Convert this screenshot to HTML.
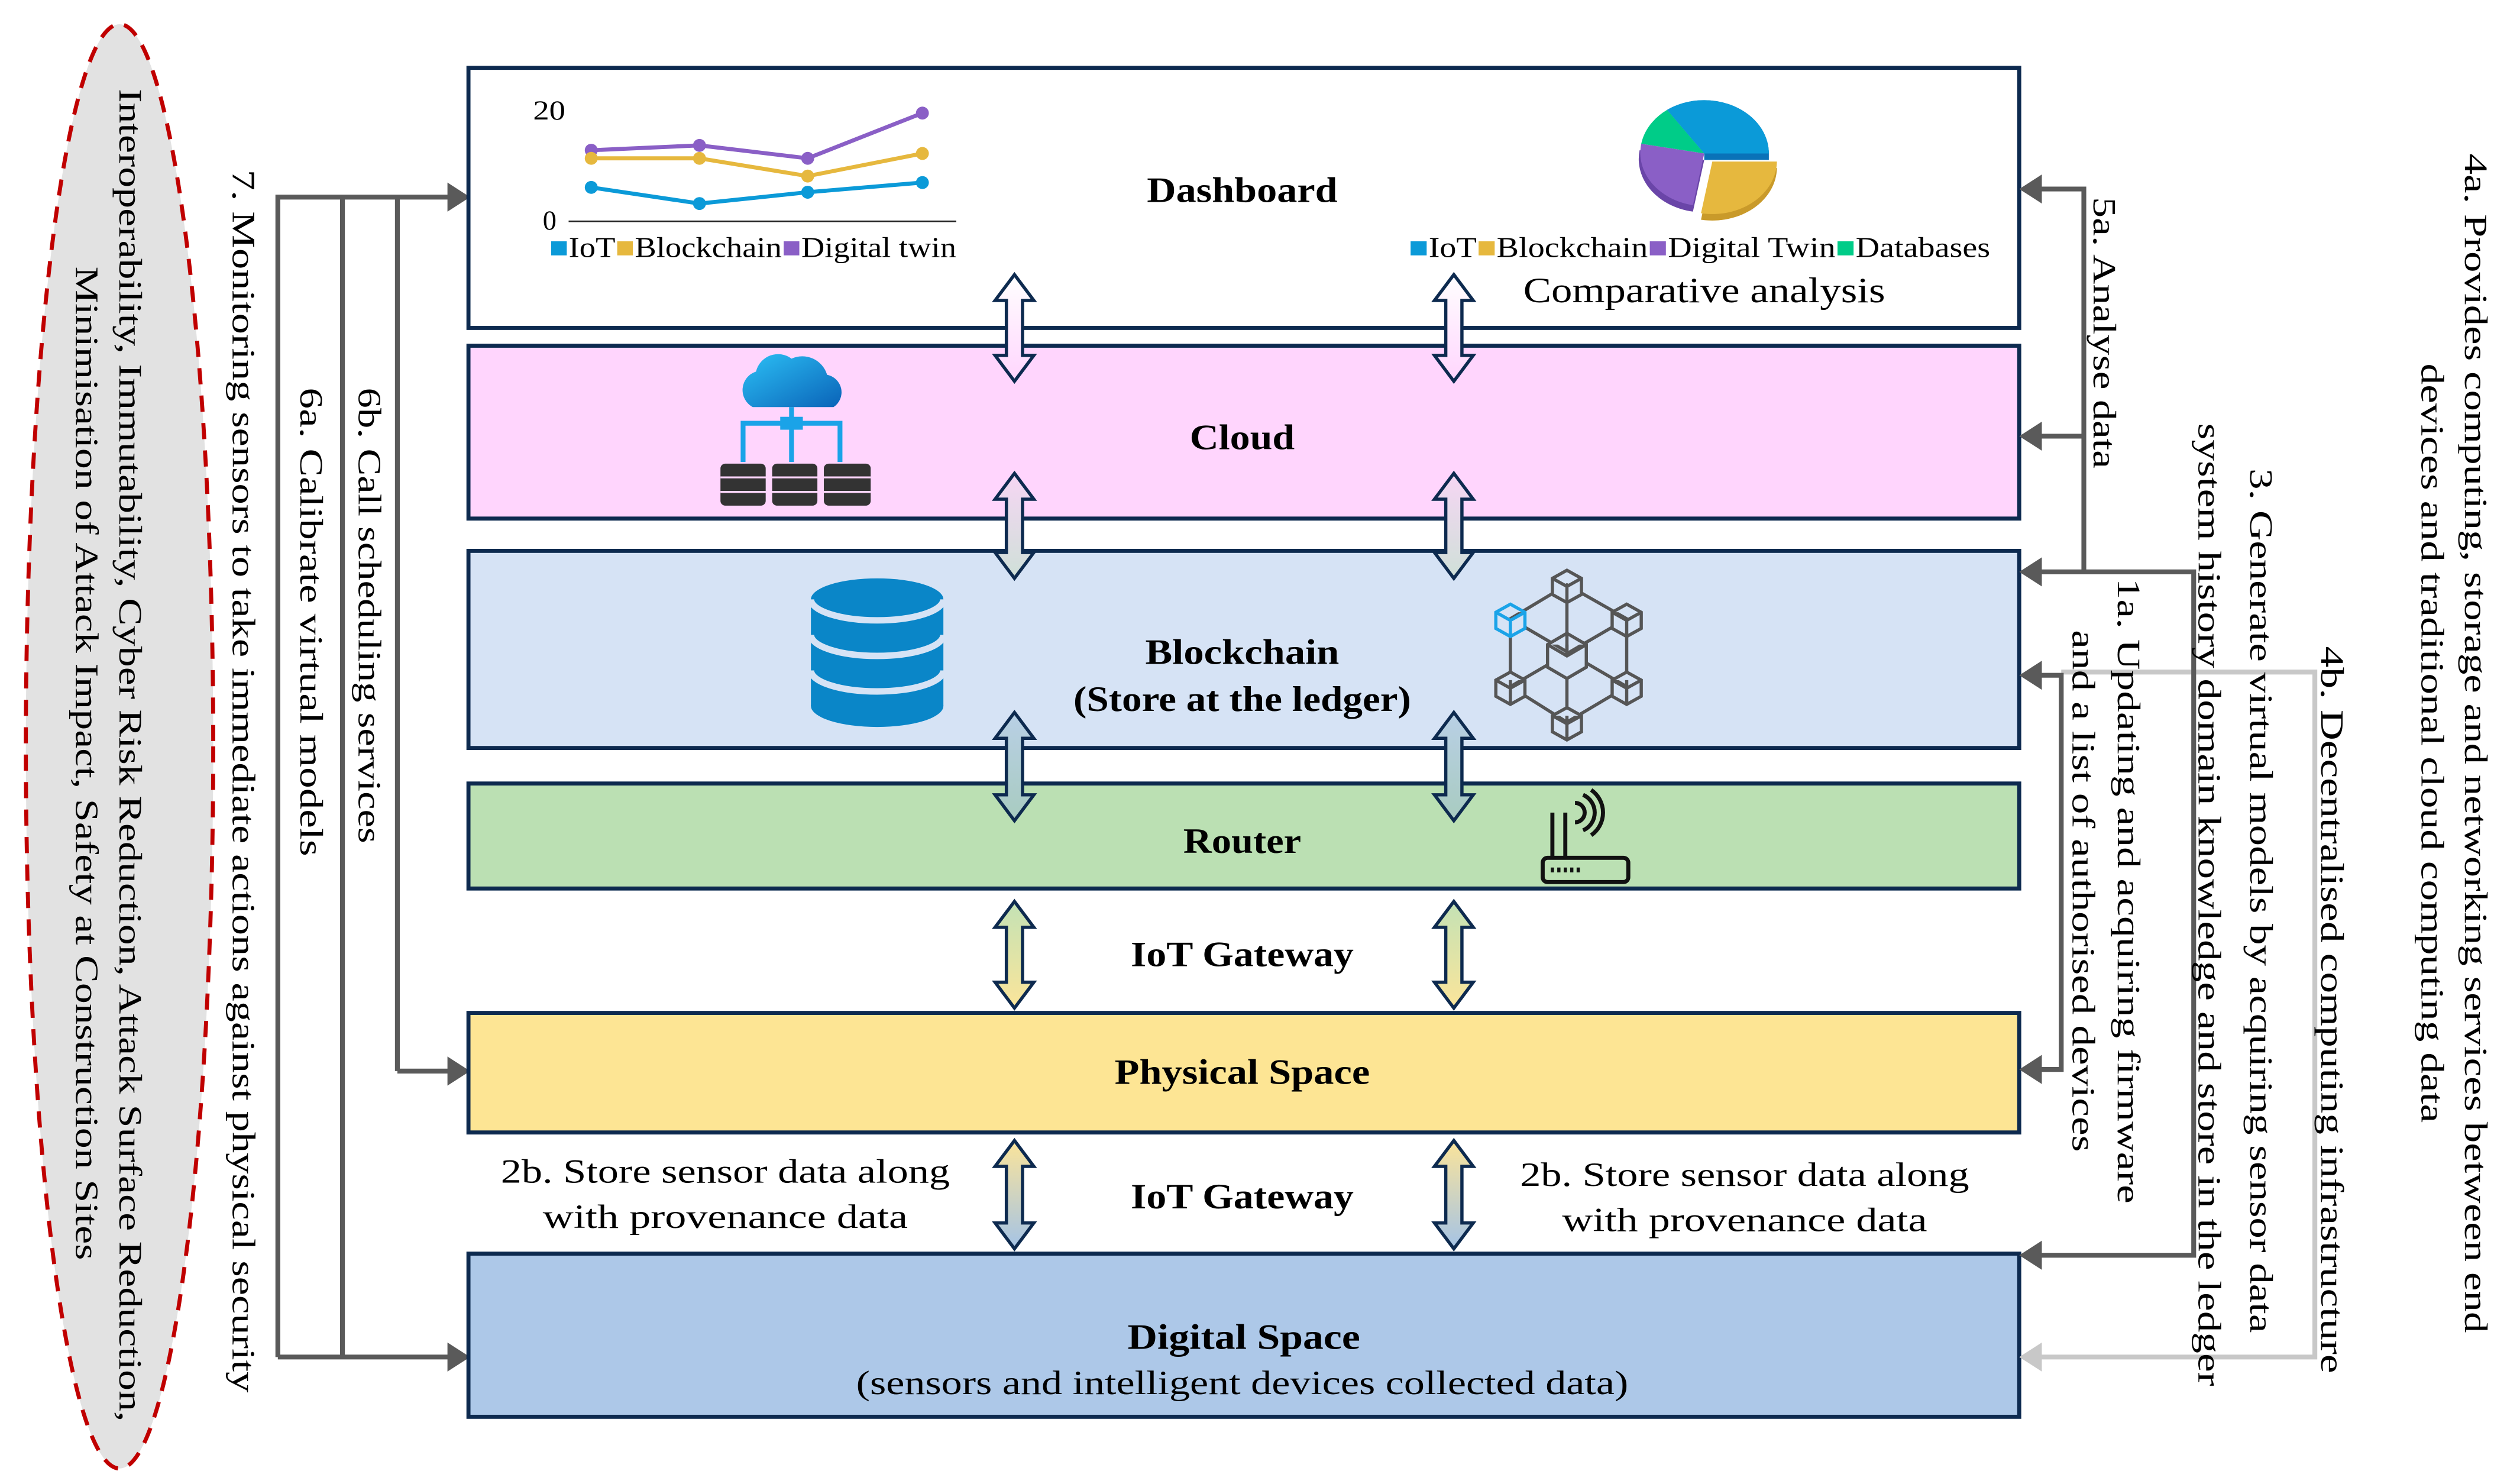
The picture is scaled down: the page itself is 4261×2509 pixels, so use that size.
<!DOCTYPE html>
<html><head><meta charset="utf-8"><style>
html,body{margin:0;padding:0;background:#fff;}
svg{display:block;}
text{font-family:"Liberation Serif",serif;fill:#000;}
.b{font-weight:bold;font-size:22px;}
.r{font-size:20px;}
</style></head><body>
<svg width="4261" height="2509" viewBox="0 0 1560 918.6" preserveAspectRatio="none" xmlns="http://www.w3.org/2000/svg">
<defs>
<linearGradient id="cg" x1="0" y1="0" x2="1" y2="1"><stop offset="0" stop-color="#2cc0f5"/><stop offset="1" stop-color="#0a63b8"/></linearGradient>
<linearGradient id="a1" x1="0" y1="0" x2="0" y2="1"><stop offset="0" stop-color="#ffffff"/><stop offset="1" stop-color="#ffd5fd"/></linearGradient>
<linearGradient id="a2" x1="0" y1="0" x2="0" y2="1"><stop offset="0" stop-color="#f6d6f4"/><stop offset="1" stop-color="#cfe0d8"/></linearGradient>
<linearGradient id="a3" x1="0" y1="0" x2="0" y2="1"><stop offset="0" stop-color="#b9d0e6"/><stop offset="1" stop-color="#a8cbc0"/></linearGradient>
<linearGradient id="a4" x1="0" y1="0" x2="0" y2="1"><stop offset="0" stop-color="#c3e2b5"/><stop offset="1" stop-color="#fbe59a"/></linearGradient>
<linearGradient id="a5" x1="0" y1="0" x2="0" y2="1"><stop offset="0" stop-color="#fbe49a"/><stop offset="1" stop-color="#a4c3e6"/></linearGradient>
</defs>

<!-- ellipse -->
<ellipse cx="74" cy="462" rx="58" ry="447" fill="#e2e2e2" stroke="#c00000" stroke-width="2.5" stroke-dasharray="10,7"/>
<text class="r" transform="translate(74,55) rotate(90)" textLength="825" lengthAdjust="spacingAndGlyphs">Interoperability, Immutability, Cyber Risk Reduction, Attack Surface Reduction,</text>
<text class="r" transform="translate(47,165) rotate(90)" textLength="615" lengthAdjust="spacingAndGlyphs">Minimisation of Attack Impact, Safety at Construction Sites</text>

<!-- left connectors -->
<g stroke="#5a5a5a" stroke-width="3" fill="none">
<polyline points="172,840 172,122 280,122"/>
<line x1="212" y1="122" x2="212" y2="840"/>
<line x1="246" y1="122" x2="246" y2="663"/>
<line x1="172" y1="840" x2="280" y2="840"/>
<line x1="246" y1="663" x2="280" y2="663"/>
</g>
<g fill="#5a5a5a">
<polygon points="291,122 277,113 277,131"/>
<polygon points="291,840 277,831 277,849"/>
<polygon points="291,663 277,654 277,672"/>
</g>
<text class="r" transform="translate(144,105) rotate(90)" textLength="757" lengthAdjust="spacingAndGlyphs">7. Monitoring sensors to take immediate actions against physical security</text>
<text class="r" transform="translate(186,240) rotate(90)" textLength="290" lengthAdjust="spacingAndGlyphs">6a. Calibrate virtual models</text>
<text class="r" transform="translate(222,240) rotate(90)" textLength="282" lengthAdjust="spacingAndGlyphs">6b. Call scheduling services</text>

<!-- boxes -->
<g stroke="#0d2a4f" stroke-width="2.5">
<rect x="290" y="42" width="960" height="161" fill="#ffffff"/>
<rect x="290" y="214" width="960" height="107" fill="#ffd5fd"/>
<rect x="290" y="341" width="960" height="122" fill="#d6e3f5"/>
<rect x="290" y="485" width="960" height="65" fill="#bbe0b3"/>
<rect x="290" y="627" width="960" height="74" fill="#fde594"/>
<rect x="290" y="776" width="960" height="101" fill="#adc8e8"/>
</g>

<!-- right connectors -->
<g fill="none" stroke-width="3">
<polyline stroke="#c8c8c8" points="1276,416 1433,416 1433,840 1262,840"/>
<polyline stroke="#5a5a5a" points="1262,117 1290,117 1290,354"/>
<line stroke="#5a5a5a" x1="1262" y1="270" x2="1290" y2="270"/>
<polyline stroke="#5a5a5a" points="1262,354 1358,354 1358,777 1262,777"/>
<polyline stroke="#5a5a5a" points="1262,418 1276,418 1276,662 1262,662"/>
</g>
<g fill="#5a5a5a">
<polygon points="1250,117 1264,108 1264,126"/>
<polygon points="1250,270 1264,261 1264,279"/>
<polygon points="1250,354 1264,345 1264,363"/>
<polygon points="1250,418 1264,409 1264,427"/>
<polygon points="1250,662 1264,653 1264,671"/>
<polygon points="1250,777 1264,768 1264,786"/>
</g>
<polygon fill="#c8c8c8" points="1250,840 1264,831 1264,849"/>

<text class="r" transform="translate(1296,122) rotate(90)" textLength="168" lengthAdjust="spacingAndGlyphs">5a. Analyse data</text>
<text class="r" transform="translate(1526,95) rotate(90)" textLength="730" lengthAdjust="spacingAndGlyphs">4a. Provides computing, storage and networking services between end</text>
<text class="r" transform="translate(1499,225) rotate(90)" textLength="470" lengthAdjust="spacingAndGlyphs">devices and traditional cloud computing data</text>
<text class="r" transform="translate(1393,290) rotate(90)" textLength="535" lengthAdjust="spacingAndGlyphs">3. Generate virtual models by acquiring sensor data</text>
<text class="r" transform="translate(1361,262) rotate(90)" textLength="596" lengthAdjust="spacingAndGlyphs">system history domain knowledge and store in the ledger</text>
<text class="r" transform="translate(1311,358) rotate(90)" textLength="387" lengthAdjust="spacingAndGlyphs">1a. Updating and acquiring firmware</text>
<text class="r" transform="translate(1283,390) rotate(90)" textLength="323" lengthAdjust="spacingAndGlyphs">and a list of authorised devices</text>
<text class="r" transform="translate(1437,400) rotate(90)" textLength="450" lengthAdjust="spacingAndGlyphs">4b. Decentralised computing infrastructure</text>

<!-- double arrows -->
<g stroke="#0d2a4f" stroke-width="2">
<path fill="url(#a1)" d="M628,170 L640,186 L633,186 L633,220 L640,220 L628,236 L616,220 L623,220 L623,186 L616,186 Z"/>
<path fill="url(#a1)" d="M900,170 L912,186 L905,186 L905,220 L912,220 L900,236 L888,220 L895,220 L895,186 L888,186 Z"/>
<path fill="url(#a2)" d="M628,293 L640,309 L633,309 L633,342 L640,342 L628,358 L616,342 L623,342 L623,309 L616,309 Z"/>
<path fill="url(#a2)" d="M900,293 L912,309 L905,309 L905,342 L912,342 L900,358 L888,342 L895,342 L895,309 L888,309 Z"/>
<path fill="url(#a3)" d="M628,441 L640,457 L633,457 L633,492 L640,492 L628,508 L616,492 L623,492 L623,457 L616,457 Z"/>
<path fill="url(#a3)" d="M900,441 L912,457 L905,457 L905,492 L912,492 L900,508 L888,492 L895,492 L895,457 L888,457 Z"/>
<path fill="url(#a4)" d="M628,558 L640,574 L633,574 L633,608 L640,608 L628,624 L616,608 L623,608 L623,574 L616,574 Z"/>
<path fill="url(#a4)" d="M900,558 L912,574 L905,574 L905,608 L912,608 L900,624 L888,608 L895,608 L895,574 L888,574 Z"/>
<path fill="url(#a5)" d="M628,706 L640,722 L633,722 L633,757 L640,757 L628,773 L616,757 L623,757 L623,722 L616,722 Z"/>
<path fill="url(#a5)" d="M900,706 L912,722 L905,722 L905,757 L912,757 L900,773 L888,757 L895,757 L895,722 L888,722 Z"/>
</g>

<!-- box labels -->
<g text-anchor="middle">
<text class="b" x="769" y="125" textLength="118" lengthAdjust="spacingAndGlyphs">Dashboard</text>
<text class="b" x="769" y="278" textLength="65" lengthAdjust="spacingAndGlyphs">Cloud</text>
<text class="b" x="769" y="411" textLength="120" lengthAdjust="spacingAndGlyphs">Blockchain</text>
<text class="b" x="769" y="440" textLength="209" lengthAdjust="spacingAndGlyphs">(Store at the ledger)</text>
<text class="b" x="769" y="528" textLength="73" lengthAdjust="spacingAndGlyphs">Router</text>
<text class="b" x="769" y="598" textLength="138" lengthAdjust="spacingAndGlyphs">IoT Gateway</text>
<text class="b" x="769" y="671" textLength="158" lengthAdjust="spacingAndGlyphs">Physical Space</text>
<text class="b" x="769" y="748" textLength="138" lengthAdjust="spacingAndGlyphs">IoT Gateway</text>
<text class="b" x="770" y="835" textLength="144" lengthAdjust="spacingAndGlyphs">Digital Space</text>
<text x="769" y="863" font-size="21" textLength="478" lengthAdjust="spacingAndGlyphs">(sensors and intelligent devices collected data)</text>
<text x="449" y="732" font-size="21" textLength="278" lengthAdjust="spacingAndGlyphs">2b. Store sensor data along</text>
<text x="449" y="760" font-size="21" textLength="226" lengthAdjust="spacingAndGlyphs">with provenance data</text>
<text x="1080" y="734" font-size="21" textLength="278" lengthAdjust="spacingAndGlyphs">2b. Store sensor data along</text>
<text x="1080" y="762" font-size="21" textLength="226" lengthAdjust="spacingAndGlyphs">with provenance data</text>
<text x="1055" y="187" font-size="22" textLength="224" lengthAdjust="spacingAndGlyphs">Comparative analysis</text>
</g>

<!-- line chart -->
<text x="330" y="74" font-size="17" textLength="20" lengthAdjust="spacingAndGlyphs">20</text>
<text x="336" y="142" font-size="17">0</text>
<line x1="352" y1="137" x2="592" y2="137" stroke="#222" stroke-width="1"/>
<g stroke-width="2.5" fill="none">
<polyline stroke="#8a5fc6" points="366,93 433,90 500,98 571,70"/>
<polyline stroke="#e6b83e" points="366,98 433,98 500,109 571,95"/>
<polyline stroke="#0b9ad8" points="366,116 433,126 500,119 571,113"/>
</g>
<g fill="#8a5fc6"><circle cx="366" cy="93" r="4"/><circle cx="433" cy="90" r="4"/><circle cx="500" cy="98" r="4"/><circle cx="571" cy="70" r="4"/></g>
<g fill="#e6b83e"><circle cx="366" cy="98" r="4"/><circle cx="433" cy="98" r="4"/><circle cx="500" cy="109" r="4"/><circle cx="571" cy="95" r="4"/></g>
<g fill="#0b9ad8"><circle cx="366" cy="116" r="4"/><circle cx="433" cy="126" r="4"/><circle cx="500" cy="119" r="4"/><circle cx="571" cy="113" r="4"/></g>
<text x="340" y="159" font-size="18" textLength="252" lengthAdjust="spacingAndGlyphs"><tspan fill="#0b9ad8">■</tspan>IoT<tspan fill="#e6b83e">■</tspan>Blockchain<tspan fill="#8a5fc6">■</tspan>Digital twin</text>

<!-- pie -->
<path d="M1060,104 L1100,104 A40,33 0 0 1 1053,136 Z" fill="#c99a2a"/>
<path d="M1055,99 L1048,131 A40,33 0 0 1 1015,93 Z" fill="#6a45a8"/>
<path d="M1055,95 L1032,68 A40,33 0 0 1 1095,95 L1095,99 L1055,99 Z" fill="#0a72b8"/>
<path d="M1055,95 L1032,68 A40,33 0 0 1 1095,95 Z" fill="#0b9ad8"/>
<path d="M1055,95 L1016,89 A40,33 0 0 1 1032,68 Z" fill="#00cc88"/>
<path d="M1055,95 L1048,127 A40,33 0 0 1 1016,89 Z" fill="#8a5fc6"/>
<path d="M1060,100 L1100,100 A40,33 0 0 1 1053,132 Z" fill="#e6b83e"/>
<text x="872" y="159" font-size="18" textLength="360" lengthAdjust="spacingAndGlyphs"><tspan fill="#0b9ad8">■</tspan>IoT<tspan fill="#e6b83e">■</tspan>Blockchain<tspan fill="#8a5fc6">■</tspan>Digital Twin<tspan fill="#00cc88">■</tspan>Databases</text>

<!-- cloud icon -->
<path d="M466,252 A12,12 0 0 1 468,230 A14,14 0 0 1 490,222 A16,16 0 0 1 512,232 A11,11 0 0 1 516,252 Z" fill="url(#cg)"/>
<g stroke="#1aa3e8" stroke-width="3" fill="none">
<line x1="490" y1="252" x2="490" y2="286"/>
<polyline points="460,286 460,262 520,262 520,286"/>
</g>
<rect x="483" y="258" width="14" height="8" fill="#1aa3e8"/>
<g fill="#333">
<rect x="446" y="287" width="28" height="26" rx="3"/>
<rect x="478" y="287" width="28" height="26" rx="3"/>
<rect x="510" y="287" width="29" height="26" rx="3"/>
</g>
<g stroke="#ffd5fd" stroke-width="1.2">
<line x1="446" y1="295.5" x2="539" y2="295.5"/><line x1="446" y1="304.5" x2="539" y2="304.5"/>
<line x1="476" y1="287" x2="476" y2="313"/><line x1="508" y1="287" x2="508" y2="313"/>
</g>

<!-- database -->
<g fill="#0a86c8">
<ellipse cx="543" cy="371" rx="41" ry="13"/>
<rect x="502" y="371" width="82" height="66"/>
<ellipse cx="543" cy="437" rx="41" ry="13"/>
</g>
<g fill="none" stroke="#d6e3f5" stroke-width="4">
<path d="M502,371 A41,13 0 0 0 584,371"/>
<path d="M502,393 A41,13 0 0 0 584,393"/>
<path d="M502,415 A41,13 0 0 0 584,415"/>
</g>

<!-- blockchain network icon -->
<g stroke="#555" stroke-width="2" fill="none">
<polygon points="970,362 1007,383 1007,425 970,447 935,425 935,383"/>
<line x1="970" y1="362" x2="970" y2="447"/>
<line x1="935" y1="383" x2="1007" y2="425"/>
<line x1="1007" y1="383" x2="935" y2="425"/>
</g>
<g stroke="#555" stroke-width="2" fill="#d6e3f5">
<path d="M970,392 L982,399 L982,413 L970,420 L958,413 L958,399 Z M970,392 L970,406 M958,399 L970,406 L982,399"/>
<path d="M970,353 L979,358 L979,368 L970,373 L961,368 L961,358 Z M961,358 L970,363 L979,358 M970,363 L970,373"/>
<path d="M1007,374 L1016,379 L1016,389 L1007,394 L998,389 L998,379 Z M998,379 L1007,384 L1016,379 M1007,384 L1007,394"/>
<path d="M1007,416 L1016,421 L1016,431 L1007,436 L998,431 L998,421 Z M998,421 L1007,426 L1016,421 M1007,426 L1007,436"/>
<path d="M970,438 L979,443 L979,453 L970,458 L961,453 L961,443 Z M961,443 L970,448 L979,443 M970,448 L970,458"/>
<path d="M935,416 L944,421 L944,431 L935,436 L926,431 L926,421 Z M926,421 L935,426 L944,421 M935,426 L935,436"/>
</g>
<path d="M935,374 L944,379 L944,389 L935,394 L926,389 L926,379 Z M926,379 L935,384 L944,379 M935,384 L935,394" stroke="#1aa3e8" stroke-width="2" fill="#d6e3f5"/>

<!-- router icon -->
<g stroke="#111" stroke-width="2.5" fill="none">
<rect x="955" y="531" width="53" height="15" rx="3"/>
<line x1="961" y1="531" x2="961" y2="503"/>
<line x1="969" y1="531" x2="969" y2="503"/>
<path d="M975,497 A6,6 0 0 1 975,509"/>
<path d="M980,492 A12,12 0 0 1 980,514"/>
<path d="M985,489 A17,17 0 0 1 985,517"/>
</g>
<g fill="#111"><rect x="960" y="537" width="2" height="3"/><rect x="964" y="537" width="2" height="3"/><rect x="968" y="537" width="2" height="3"/><rect x="972" y="537" width="2" height="3"/><rect x="976" y="537" width="2" height="3"/></g>
</svg>
</body></html>
